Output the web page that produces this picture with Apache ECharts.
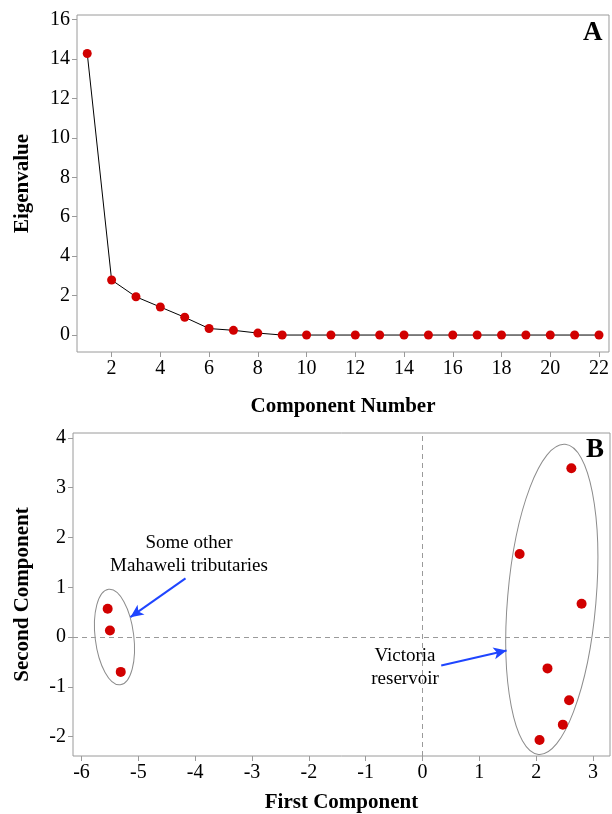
<!DOCTYPE html>
<html>
<head>
<meta charset="utf-8">
<script src="https://cdn.jsdelivr.net/npm/echarts@6/dist/echarts.min.js"></script>
<style>
  html, body { margin: 0; padding: 0; background: #fff; }
  #chart { width: 612px; height: 814px; }
</style>
</head>
<body>
<div id="chart"></div>
<script>
// panel A: scree plot
const componentNumbers = [1, 2, 3, 4, 5, 6, 7, 8, 9, 10, 11, 12, 13, 14, 15, 16, 17, 18, 19, 20, 21, 22];
const eigenvalues = [14.28, 2.79, 1.94, 1.42, 0.90, 0.33, 0.24, 0.10, 0, 0, 0, 0, 0, 0, 0, 0, 0, 0, 0, 0, 0, 0];
const ticksAX = [2, 4, 6, 8, 10, 12, 14, 16, 18, 20, 22];
const ticksAY = [0, 2, 4, 6, 8, 10, 12, 14, 16];

// panel B: score plot
const firstComponent = [-5.54, -5.50, -5.31, 2.62, 1.71, 2.80, 2.20, 2.58, 2.47, 2.06];
const secondComponent = [0.57, 0.13, -0.70, 3.39, 1.67, 0.67, -0.63, -1.27, -1.76, -2.07];
const ticksBX = [-6, -5, -4, -3, -2, -1, 0, 1, 2, 3];
const ticksBY = [-2, -1, 0, 1, 2, 3, 4];

// group ellipses: centre x, centre y, half width, half height (data units), tilt (deg)
const groupEllipses = [
  [-5.42, 0.00, 0.34, 0.966, 7],
  [2.276, 0.757, 0.778, 3.126, -4.9]
];
// arrows: [from x, from y, to x, to y]
const arrows = [
  [-4.17, 1.18, -5.14, 0.40],
  [0.33, -0.57, 1.48, -0.27]
];

const FONT = 'Liberation Serif';
const RED = '#d10000';
const GRAY = '#9a9a9a';

function axisBase(ticks, min, max) {
  return {
    type: 'value',
    min: min,
    max: max,
    axisLine: { show: false, onZero: false },
    splitLine: { show: false },
    axisTick: { show: true, inside: false, length: 5, customValues: ticks, lineStyle: { color: GRAY } },
    axisLabel: { customValues: ticks, color: '#000', fontFamily: FONT, fontSize: 20, margin: 7 },
    nameLocation: 'middle',
    nameTextStyle: { fontFamily: FONT, fontSize: 21, fontWeight: 'bold', color: '#000' }
  };
}

const chart = echarts.init(document.getElementById('chart'), null, { renderer: 'canvas' });

const option = {
  animation: false,
  backgroundColor: '#fff',
  grid: [
    { left: 77, top: 15, width: 533, height: 337, show: true, borderColor: GRAY, borderWidth: 1, containLabel: false },
    { left: 73, top: 433, width: 537, height: 324, show: true, borderColor: GRAY, borderWidth: 1, containLabel: false }
  ],
  xAxis: [
    Object.assign(axisBase(ticksAX, 0.58, 22.41), { gridIndex: 0, name: 'Component Number', nameGap: 44 }),
    Object.assign(axisBase(ticksBX, -6.15, 3.3), { gridIndex: 1, name: 'First Component', nameGap: 36 })
  ],
  yAxis: [
    Object.assign(axisBase(ticksAY, -0.86, 16.23), { gridIndex: 0, name: 'Eigenvalue', nameGap: 44 }),
    Object.assign(axisBase(ticksBY, -2.39, 4.1), { gridIndex: 1, name: 'Second Component', nameGap: 40 })
  ],
  series: [
    {
      type: 'line',
      xAxisIndex: 0,
      yAxisIndex: 0,
      data: componentNumbers.map((c, i) => [c, eigenvalues[i]]),
      symbol: 'circle',
      symbolSize: 9,
      itemStyle: { color: RED, borderWidth: 0 },
      lineStyle: { color: '#000', width: 1 },
      z: 3
    },
    {
      type: 'scatter',
      xAxisIndex: 1,
      yAxisIndex: 1,
      data: firstComponent.map((x, i) => [x, secondComponent[i]]),
      symbolSize: 10,
      itemStyle: { color: RED, opacity: 1 },
      z: 4,
      markLine: {
        silent: true,
        symbol: ['none', 'none'],
        label: { show: false },
        lineStyle: { color: GRAY, type: [5, 4], width: 1 },
        data: [{ xAxis: 0 }, { yAxis: 0 }]
      }
    },
    {
      type: 'custom',
      xAxisIndex: 1,
      yAxisIndex: 1,
      silent: true,
      data: groupEllipses,
      encode: { x: 0, y: 1 },
      renderItem: function (params, api) {
        const c = api.coord([api.value(0), api.value(1)]);
        const s = api.size([api.value(2), api.value(3)]);
        return {
          type: 'ellipse',
          x: c[0],
          y: c[1],
          rotation: api.value(4) * Math.PI / 180,
          shape: { cx: 0, cy: 0, rx: s[0], ry: s[1] },
          style: { fill: 'none', stroke: '#8c8c8c', lineWidth: 1 }
        };
      },
      z: 2
    },
    {
      type: 'line',
      xAxisIndex: 1,
      yAxisIndex: 1,
      data: [],
      markLine: {
        silent: true,
        symbol: ['none', 'arrow'],
        symbolSize: [9, 13],
        label: { show: false },
        lineStyle: { color: '#1f45ff', type: 'solid', width: 2 },
        itemStyle: { color: '#1f45ff' },
        data: arrows.map(a => [{ coord: [a[0], a[1]] }, { coord: [a[2], a[3]] }])
      }
    }
  ],
  graphic: [
    { type: 'text', left: 583, top: 20, style: { text: 'A', font: 'bold 27px "Liberation Serif"', fill: '#000' } },
    { type: 'text', left: 586, top: 437, style: { text: 'B', font: 'bold 27px "Liberation Serif"', fill: '#000' } },
    {
      type: 'text', x: 189, y: 555,
      style: { text: 'Some other\nMahaweli tributaries', font: '19px "Liberation Serif"', fill: '#000', align: 'center', verticalAlign: 'middle', lineHeight: 23 }
    },
    {
      type: 'text', x: 405, y: 668,
      style: { text: 'Victoria\nreservoir', font: '19px "Liberation Serif"', fill: '#000', align: 'center', verticalAlign: 'middle', lineHeight: 23 }
    }
  ]
};

chart.setOption(option);
</script>
</body>
</html>
